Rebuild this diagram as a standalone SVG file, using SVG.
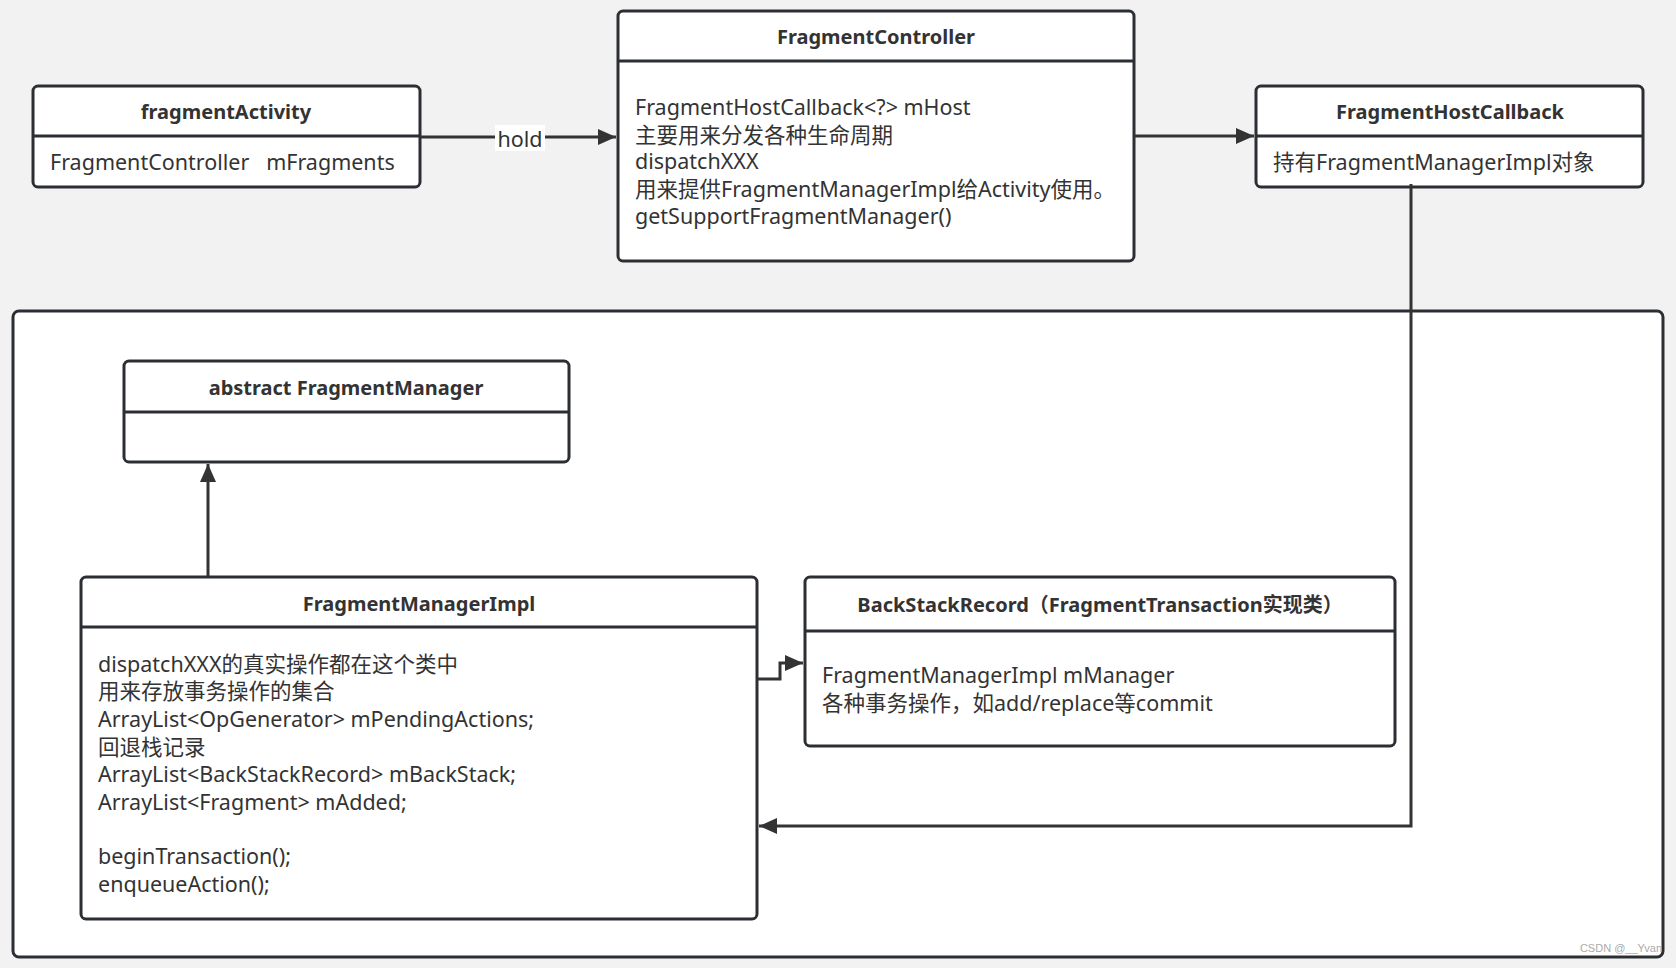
<svg xmlns="http://www.w3.org/2000/svg" width="1676" height="968" viewBox="0 0 1676 968">
<defs>
<style>
.box{fill:#fff;stroke:#2b2f33;stroke-width:3}
.div{stroke:#2b2f33;stroke-width:3}
.t{font-family:"Noto Sans","Noto Sans CJK SC",sans-serif;font-size:20px;font-weight:bold;fill:#333;text-anchor:middle;dominant-baseline:central}
.b{font-family:"Noto Sans","Noto Sans CJK SC",sans-serif;font-size:21.5px;fill:#333;dominant-baseline:central;white-space:pre}
.c{fill:none;stroke:#333;stroke-width:3}
</style>
<marker id="ah" markerUnits="userSpaceOnUse" markerWidth="20" markerHeight="18" refX="18" refY="8" orient="auto">
<path d="M0,0 L18,8 L0,16 z" fill="#333"/>
</marker>
</defs>
<rect width="1676" height="968" fill="#f2f2f2"/>
<rect id="container" x="13" y="311" width="1650" height="646" rx="6" class="box"/>

<g id="fragmentActivity">
<rect x="33" y="86" width="387" height="101" rx="5" class="box"/>
<line x1="33" y1="136" x2="420" y2="136" class="div"/>
<text x="226" y="111" class="t">fragmentActivity</text>
<text x="50" y="161" class="b" xml:space="preserve">FragmentController   mFragments</text>
</g>

<g id="FragmentController">
<rect x="618" y="11" width="516" height="250" rx="5" class="box"/>
<line x1="618" y1="61" x2="1134" y2="61" class="div"/>
<text x="876" y="36" class="t">FragmentController</text>
<text x="635" y="106" class="b">FragmentHostCallback&lt;?&gt; mHost</text>
<text x="635" y="134" class="b">主要用来分发各种生命周期</text>
<text x="635" y="160" class="b">dispatchXXX</text>
<text x="635" y="188" class="b">用来提供FragmentManagerImpl给Activity使用。</text>
<text x="635" y="215" class="b">getSupportFragmentManager()</text>
</g>

<g id="FragmentHostCallback">
<rect x="1256" y="86" width="387" height="101" rx="5" class="box"/>
<line x1="1256" y1="136" x2="1643" y2="136" class="div"/>
<text x="1450" y="111" class="t">FragmentHostCallback</text>
<text x="1273" y="161" class="b">持有FragmentManagerImpl对象</text>
</g>

<g id="FragmentManager">
<rect x="124" y="361" width="445" height="101" rx="5" class="box"/>
<line x1="124" y1="412" x2="569" y2="412" class="div"/>
<text x="346" y="387" class="t">abstract FragmentManager</text>
</g>

<g id="FragmentManagerImpl">
<rect x="81" y="577" width="676" height="342" rx="5" class="box"/>
<line x1="81" y1="627" x2="757" y2="627" class="div"/>
<text x="419" y="603" class="t">FragmentManagerImpl</text>
<text x="98" y="663" class="b">dispatchXXX的真实操作都在这个类中</text>
<text x="98" y="690" class="b">用来存放事务操作的集合</text>
<text x="98" y="718" class="b">ArrayList&lt;OpGenerator&gt; mPendingActions;</text>
<text x="98" y="746" class="b">回退栈记录</text>
<text x="98" y="773" class="b">ArrayList&lt;BackStackRecord&gt; mBackStack;</text>
<text x="98" y="801" class="b">ArrayList&lt;Fragment&gt; mAdded;</text>
<text x="98" y="855" class="b">beginTransaction();</text>
<text x="98" y="883" class="b">enqueueAction();</text>
</g>

<g id="BackStackRecord">
<rect x="805" y="577" width="590" height="169" rx="5" class="box"/>
<line x1="805" y1="631" x2="1395" y2="631" class="div"/>
<text x="1100" y="604" class="t">BackStackRecord（FragmentTransaction实现类）</text>
<text x="822" y="674" class="b">FragmentManagerImpl mManager</text>
<text x="822" y="702" class="b">各种事务操作，如add/replace等commit</text>
</g>

<g id="connectors">
<path d="M420,137 L616,137" class="c" marker-end="url(#ah)"/>
<rect x="495" y="125" width="50" height="26" fill="#fff"/>
<text x="520" y="138" class="b" text-anchor="middle">hold</text>
<path d="M1134,136 L1254,136" class="c" marker-end="url(#ah)"/>
<path d="M1411,184 L1411,826 L759,826" class="c" marker-end="url(#ah)"/>
<path d="M208,577 L208,464" class="c" marker-end="url(#ah)"/>
<path d="M757,679 L780,679 L780,663 L803,663" class="c" marker-end="url(#ah)"/>
</g>

<text x="1662" y="952" font-family="Liberation Sans, sans-serif" font-size="11" fill="#aaa" text-anchor="end">CSDN @__Yvan</text>
</svg>
